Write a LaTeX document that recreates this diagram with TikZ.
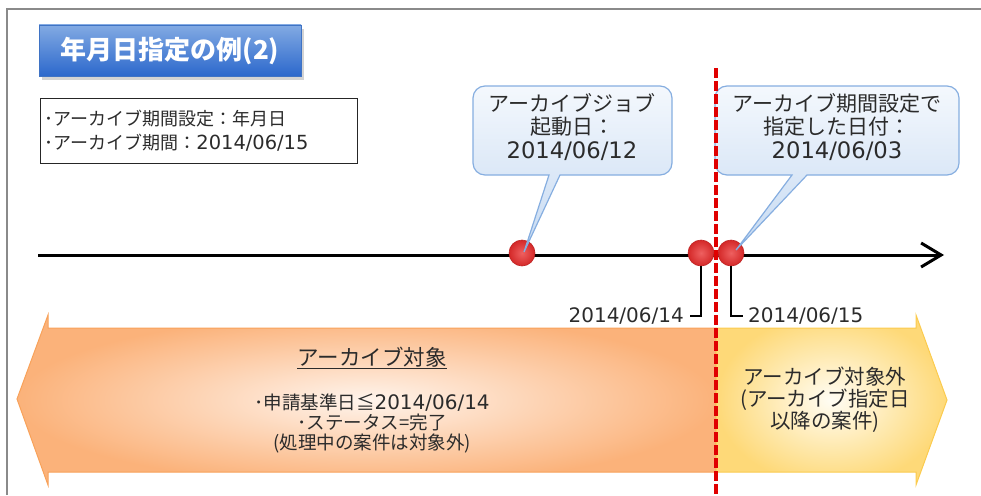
\documentclass[tikz,border=0pt]{standalone}
\usepackage{fontspec}
\setmainfont{Noto Sans CJK JP}
\newfontfamily\digfont{DejaVu Sans}[Scale=1.08]
\usetikzlibrary{arrows.meta,shadows}
\definecolor{framegray}{HTML}{8A8A8A}
\definecolor{txt}{HTML}{2B2B2B}
\definecolor{tbtop}{HTML}{82AAE3}
\definecolor{tbbot}{HTML}{2C68CC}
\definecolor{tbdraw}{HTML}{3F73C4}
\definecolor{cotop}{HTML}{F4F8FD}
\definecolor{cobot}{HTML}{C6DAF2}
\definecolor{codraw}{HTML}{86AEE0}
\definecolor{orin}{HTML}{FFF4EC}
\definecolor{orout}{HTML}{FBB27A}
\definecolor{ordraw}{HTML}{F8A25A}
\definecolor{yein}{HTML}{FFFDF4}
\definecolor{yeout}{HTML}{FED978}
\definecolor{yedraw}{HTML}{FBCB4E}
\definecolor{redin}{HTML}{EE6060}
\definecolor{redout}{HTML}{D42828}
\definecolor{reddash}{HTML}{E00000}
\tikzset{
  titlebox/.style={draw=tbdraw, line width=0.8pt, top color=tbtop, bottom color=tbbot,
    drop shadow={opacity=0.35, shadow xshift=3pt, shadow yshift=-4pt},
    text=white, font=\fontsize{26}{26}\selectfont\bfseries,
    minimum width=262pt, minimum height=51pt, inner sep=0pt},
  infobox/.style={draw=black!85, line width=1pt, text=txt, align=left,
    text width=309pt, inner sep=4pt, minimum height=65pt,
    font=\fontsize{18}{24}\selectfont},
  callout/.style={draw=codraw, line width=1.2pt, top color=cotop, bottom color=cobot},
  callouttext/.style={text=txt, align=center, font=\fontsize{21}{23.5}\selectfont, inner sep=0pt},
  orarrow/.style={draw=ordraw, line width=1pt, shading=radial, inner color=orin, outer color=orout},
  yearrow/.style={draw=yedraw, line width=1pt, shading=radial, inner color=yein, outer color=yeout},
  dot/.style={circle, minimum size=26pt, inner sep=0pt, draw=redout!90!black, line width=0.6pt,
    shading=radial, inner color=redin, outer color=redout},
  datelbl/.style={text=txt, inner sep=0pt, font=\digfont\fontsize{18.5}{18.5}\selectfont},
  leader/.style={draw=black, line width=1.3pt},
  timeline/.style={line width=3pt, -{Straight Barb[length=20pt,width=24pt,line width=3pt]}},
  cutline/.style={draw=reddash, line width=3.5pt, dash pattern=on 10pt off 3pt}
}
\begin{document}
\begin{tikzpicture}[x=1pt,y=-1pt]
\useasboundingbox (0,0) rectangle (981,495);
% frame
\draw[framegray, line width=1.5pt] (7,495) -- (7,9) -- (981,9);
% title
\node[titlebox] (title) at (170,50.5) {年月日指定の例(2)};
% info box
\node[infobox, anchor=north west] (info) at (40,98)
  {･アーカイブ期間設定：年月日\\･アーカイブ期間：{\digfont 2014/06/15}};
% big arrows
\path[orarrow] (17,399) -- (48,315) -- (48,328) -- (716,328) -- (716,472) -- (48,472) -- (48,485) -- cycle;
\path[yearrow] (716,328) -- (916,328) -- (916,315) -- (947,400) -- (916,485) -- (916,472) -- (716,472) -- cycle;
\node[text=txt, inner sep=1pt, font=\fontsize{21.5}{24}\selectfont] (objt) at (372,358) {\underline{アーカイブ対象}};
\node[text=txt, align=center, inner sep=0pt, font=\fontsize{18.5}{20}\selectfont] (objd) at (372,423)
  {･申請基準日≦{\digfont 2014/06/14}\\･ステータス=完了\\(処理中の案件は対象外)};
\node[text=txt, align=center, inner sep=0pt, font=\fontsize{20.5}{22}\selectfont] (nobj) at (825,400)
  {アーカイブ対象外\\(アーカイブ指定日\\以降の案件)};
% timeline
\coordinate (tls) at (38,255);
\coordinate (tle) at (944,255);
\draw[timeline] (tls) -- (tle);
\node[dot] (c1) at (522,253) {};
\node[dot] (c2) at (701,253) {};
\node[dot] (c3) at (731,253) {};
% leaders and dates
\node[datelbl, anchor=east] (l14) at (684,316) {2014/06/14};
\node[datelbl, anchor=west] (l15) at (748,316) {2014/06/15};
\coordinate (k14) at (690,316);
\coordinate (k15) at (743,316);
\draw[leader] (c2.south) |- (k14);
\draw[leader] (c3.south) |- (k15);
% callouts
\path[callout] (485,86) -- (660,86) arc(-90:0:12) -- (672,163) arc(0:90:12) -- (560,175)
  -- (524,252) -- (549,175) -- (485,175) arc(90:180:12) -- (473,98) arc(180:270:12) -- cycle;
\node[callouttext] (ct1) at (572,127) {アーカイブジョブ\\起動日：\\{\digfont 2014/06/12}};
\path[callout] (727,86) -- (947,86) arc(-90:0:12) -- (959,163) arc(0:90:12) -- (807,175)
  -- (736,250) -- (792,175) -- (727,175) arc(90:180:12) -- (715,98) arc(180:270:12) -- cycle;
\node[callouttext] (ct2) at (837,127) {アーカイブ期間設定で\\指定した日付：\\{\digfont 2014/06/03}};
% cut line
\coordinate (cuttop) at (716,68);
\coordinate (cutbot) at (716,495);
\draw[cutline] (cuttop) -- (cutbot);
\end{tikzpicture}
\end{document}
